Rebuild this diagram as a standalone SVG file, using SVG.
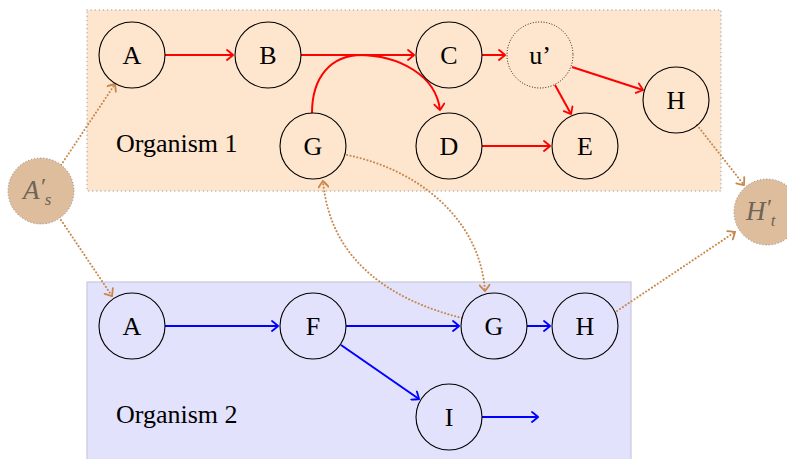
<svg xmlns="http://www.w3.org/2000/svg" width="787" height="459" viewBox="0 0 787 459">
<style>
.lbl{font-family:"Liberation Serif","Times New Roman",serif;font-size:26px;fill:#000;text-anchor:middle;dominant-baseline:central}
.org{font-family:"Liberation Serif","Times New Roman",serif;font-size:26px;fill:#000}
.nd{fill:none;stroke:#000;stroke-width:1.1}
.red{fill:none;stroke:#ff0000;stroke-width:2}
.blue{fill:none;stroke:#0000ff;stroke-width:2}
.br{fill:none;stroke:#c8874a;stroke-width:2;stroke-dasharray:0.1 3.4;stroke-linecap:round}
.ext{fill:#debd9c;stroke:#7a7a7a;stroke-width:1;stroke-dasharray:0.1 3;stroke-linecap:round}
.extl{font-family:"Liberation Serif","Times New Roman",serif;font-style:italic;font-size:27px;fill:#6e6458}
</style>
<defs>
<marker id="ar" viewBox="-10 -6 12 12" markerWidth="12" markerHeight="12" refX="0" refY="0" orient="auto" markerUnits="userSpaceOnUse"><path d="M-6,-5 Q-1,-1 0,0 Q-1,1 -6,5" fill="none" stroke="#ff0000" stroke-width="1.8" stroke-linecap="round"/></marker>
<marker id="ab" viewBox="-10 -6 12 12" markerWidth="12" markerHeight="12" refX="0" refY="0" orient="auto" markerUnits="userSpaceOnUse"><path d="M-6,-5 Q-1,-1 0,0 Q-1,1 -6,5" fill="none" stroke="#0000ff" stroke-width="1.8" stroke-linecap="round"/></marker>
<marker id="abr" viewBox="-10 -6 12 12" markerWidth="12" markerHeight="12" refX="0" refY="0" orient="auto" markerUnits="userSpaceOnUse"><path d="M-6,-5 Q-1,-1 0,0 Q-1,1 -6,5" fill="none" stroke="#c8874a" stroke-width="1.8" stroke-linecap="round"/></marker>
</defs>
<g id="organism1">
<rect x="87" y="10" width="634" height="181" fill="#fee5cd" stroke="#b4b4b4" stroke-width="1.5" stroke-dasharray="0.1 4" stroke-linecap="round"/>
<text class="org" x="116" y="152">Organism 1</text>
</g>
<g id="organism2">
<rect x="87" y="282" width="544" height="190" fill="#e2e2fc" stroke="#c8c8dc" stroke-width="1.2"/>
<text class="org" x="116" y="423">Organism 2</text>
</g>
<g id="connectors">
<path class="red" d="M165,55 H233" marker-end="url(#ar)"/>
<path class="red" d="M301,55 H414" marker-end="url(#ar)"/>
<path class="red" d="M301,55 H358 C400,55 436,76 440,110" marker-end="url(#ar)"/>
<path class="red" d="M312,113 C312,78 330,55 362,55"/>
<path class="red" d="M482,55 H505" marker-end="url(#ar)"/>
<path class="red" d="M572,67 L643,90" marker-end="url(#ar)"/>
<path class="red" d="M555,85 L571,114" marker-end="url(#ar)"/>
<path class="red" d="M482,146 H550" marker-end="url(#ar)"/>
<path class="blue" d="M165,326 H278" marker-end="url(#ab)"/>
<path class="blue" d="M346,326 H459" marker-end="url(#ab)"/>
<path class="blue" d="M527,326 H550" marker-end="url(#ab)"/>
<path class="blue" d="M341,345 L419,399" marker-end="url(#ab)"/>
<path class="blue" d="M482,417 H538" marker-end="url(#ab)"/>
<path class="br" d="M61,165 L115,84" marker-end="url(#abr)"/>
<path class="br" d="M61,220 L112,296" marker-end="url(#abr)"/>
<path class="br" d="M697,125 L744,185" marker-end="url(#abr)"/>
<path class="br" d="M617,311 L735,232" marker-end="url(#abr)"/>
<path class="br" d="M347,155 C420,170 480,220 485,291" marker-end="url(#abr)"/>
<path class="br" d="M462,318 C390,300 330,260 323,181" marker-end="url(#abr)"/>
</g>
<g id="A1"><circle class="nd" cx="132" cy="55" r="33"/><text class="lbl" x="132" y="55">A</text></g>
<g id="B"><circle class="nd" cx="268" cy="55" r="33"/><text class="lbl" x="268" y="55">B</text></g>
<g id="C"><circle class="nd" cx="449" cy="55" r="33"/><text class="lbl" x="449" y="55">C</text></g>
<g id="u"><circle cx="540" cy="55" r="33" fill="none" stroke="#000" stroke-width="1" stroke-dasharray="0.1 2.6" stroke-linecap="round"/><text class="lbl" x="540" y="55">u’</text></g>
<g id="H1"><circle class="nd" cx="676" cy="100" r="33"/><text class="lbl" x="676" y="100">H</text></g>
<g id="G1"><circle class="nd" cx="313" cy="146" r="33"/><text class="lbl" x="313" y="146">G</text></g>
<g id="D"><circle class="nd" cx="449" cy="146" r="33"/><text class="lbl" x="449" y="146">D</text></g>
<g id="E"><circle class="nd" cx="585" cy="146" r="33"/><text class="lbl" x="585" y="146">E</text></g>
<g id="A2"><circle class="nd" cx="132" cy="326" r="33"/><text class="lbl" x="132" y="326">A</text></g>
<g id="F"><circle class="nd" cx="313" cy="326" r="33"/><text class="lbl" x="313" y="326">F</text></g>
<g id="G2"><circle class="nd" cx="494" cy="326" r="33"/><text class="lbl" x="494" y="326">G</text></g>
<g id="H2"><circle class="nd" cx="585" cy="326" r="33"/><text class="lbl" x="585" y="326">H</text></g>
<g id="I"><circle class="nd" cx="449" cy="417" r="33"/><text class="lbl" x="449" y="417">I</text></g>
<g id="As"><circle class="ext" cx="41" cy="191" r="33"/><text class="extl" x="23" y="199">A<tspan dy="-5" font-size="24">′</tspan><tspan dy="11" font-size="17">s</tspan></text></g>
<g id="Ht"><circle class="ext" cx="767" cy="212" r="33"/><text class="extl" x="746" y="220">H<tspan dy="-5" font-size="24">′</tspan><tspan dy="11" font-size="17">t</tspan></text></g>
</svg>
